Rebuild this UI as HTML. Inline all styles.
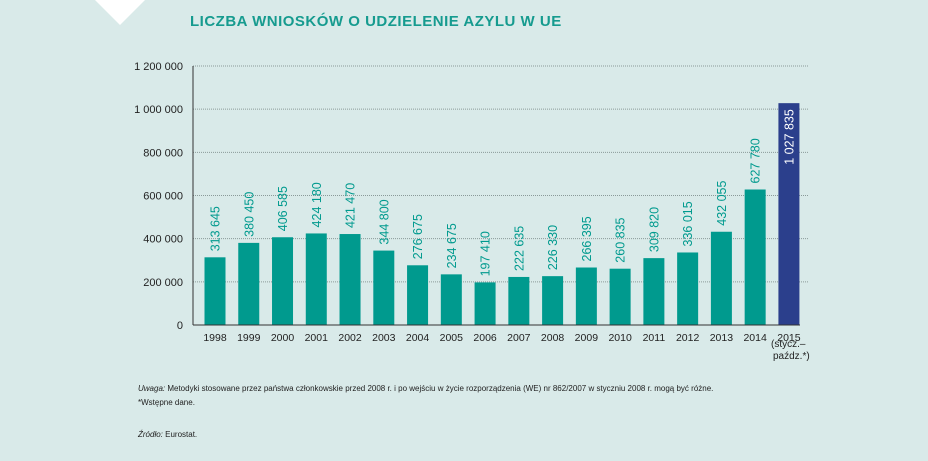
<!DOCTYPE html>
<html><head><meta charset="utf-8"><style>
body{margin:0;width:928px;height:461px;background:#d9eae9;overflow:hidden;font-family:"Liberation Sans",sans-serif}
svg{position:absolute;left:0;top:0}
</style></head><body>
<svg width="928" height="461">
<polygon points="95,0 145,0 120,25" fill="#fff"/>
<text x="190" y="26" fill="#169b8f" font-size="15" font-weight="bold" letter-spacing="0.5">LICZBA WNIOSKÓW O UDZIELENIE AZYLU W UE</text>
<g id="grid"></g><g id="bars"></g><g id="xl"></g>
<line x1="193" y1="66" x2="193" y2="325" stroke="#333" stroke-width="1"/>
<line x1="193" y1="325" x2="800" y2="325" stroke="#333" stroke-width="1"/>
<text x="771" y="347" font-size="10" fill="#222">(stycz.–</text>
<text x="773" y="359" font-size="10" fill="#222">paźdz.*)</text>
<text x="138" y="391" font-size="8" fill="#222"><tspan font-style="italic">Uwaga:</tspan> Metodyki stosowane przez państwa członkowskie przed 2008 r. i po wejściu w życie rozporządzenia (WE) nr 862/2007 w styczniu 2008 r. mogą być różne.</text>
<text x="138" y="405" font-size="8" fill="#222">*Wstępne dane.</text>
<text x="138" y="437" font-size="8" fill="#222"><tspan font-style="italic">Źródło:</tspan> Eurostat.</text>
</svg>
<script>
const categories=["1998","1999","2000","2001","2002","2003","2004","2005","2006","2007","2008","2009","2010","2011","2012","2013","2014","2015"];
const values=[313645,380450,406585,424180,421470,344800,276675,234675,197410,222635,226330,266395,260835,309820,336015,432055,627780,1027835];
const valueLabels=["313 645","380 450","406 585","424 180","421 470","344 800","276 675","234 675","197 410","222 635","226 330","266 395","260 835","309 820","336 015","432 055","627 780","1 027 835"];
const yTicks=[0,200000,400000,600000,800000,1000000,1200000];
const yTickLabels=["0","200 000","400 000","600 000","800 000","1 000 000","1 200 000"];
const NS="http://www.w3.org/2000/svg";
const y=v=>325-v/1200000*259;
const x=i=>215+i*33.76;
function mk(t,a,p){const e=document.createElementNS(NS,t);for(const k in a)e.setAttribute(k,a[k]);p.appendChild(e);return e;}
const g=document.getElementById('grid'),b=document.getElementById('bars'),xl=document.getElementById('xl');
yTicks.forEach((v,i)=>{
 if(v>0){const l=mk('line',{x1:193,x2:808,y1:y(v),y2:y(v),stroke:'#8a9a99','stroke-dasharray':'1,1','stroke-width':1},g);
 
 }
 const t=mk('text',{x:183,y:y(v)+4,'text-anchor':'end','font-size':11,fill:'#222'},g);t.textContent=yTickLabels[i];
 
 
});
categories.forEach((c,i)=>{
 const last=i===categories.length-1;
 const r=mk('rect',{x:x(i)-10.5,y:y(values[i]),width:21,height:325-y(values[i]),fill:last?'#2b3f8c':'#009a8e'},b);
 
 
 const ly=last?y(values[i])+6:y(values[i])-6;
 const t=mk('text',{x:0,y:0,transform:`translate(${x(i)+4.5},${ly}) rotate(-90)`,'text-anchor':last?'end':'start','font-size':12.5,fill:last?'#fff':'#009a8e'},b);
 t.textContent=valueLabels[i];
 
 
 const xt=mk('text',{x:x(i),y:341,'text-anchor':'middle','font-size':10.5,fill:'#222'},xl);xt.textContent=c;
 
 
});
</script>
</body></html>
